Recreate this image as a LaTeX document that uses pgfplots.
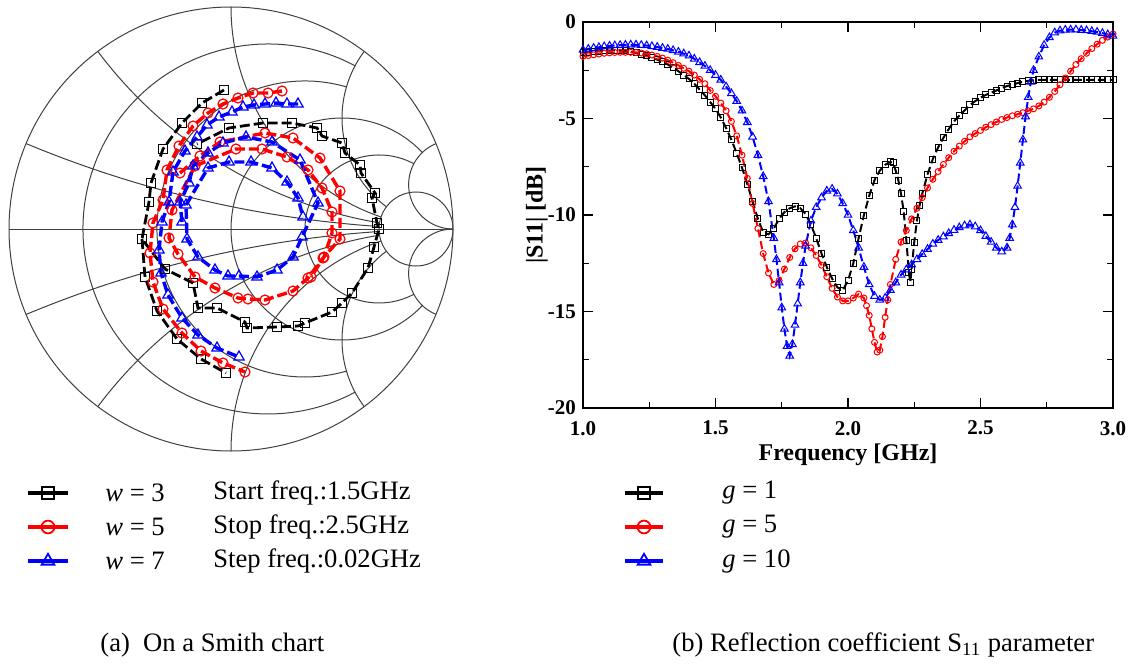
\documentclass[border=0pt]{standalone}
\usepackage{pgfplots}
\pgfplotsset{compat=1.18}
\usepackage{fontspec}
\setmainfont{Liberation Serif}

\begin{document}
\begin{tikzpicture}
\useasboundingbox (0,0) rectangle (569pt,332.5pt);

% ---- Smith chart grid (unit = |Gamma| = 1)
\begin{scope}[shift={(115.5pt,218pt)}, x=111pt, y=111pt, line width=0.5pt, black!75]
  \draw (0,0) circle [radius=1];
  \draw (-1,0) -- (1,0);
  % constant resistance circles, drawn for |x| <= X
  \foreach \r/\X in {0.2/2, 0.5/2, 1/5, 2/5} {
    \pgfmathsetmacro\c{\r/(1+\r)}
    \pgfmathsetmacro\R{1/(1+\r)}
    \pgfmathsetmacro\t{180-2*atan(\X/(1+\r))}
    \draw ({\c+\R*cos(\t)},{\R*sin(\t)}) arc [start angle=\t, end angle={360-\t}, radius=\R];
  }
  \draw (0.83333,0) circle [radius=0.16667];
  % constant reactance arcs, drawn from r = 0 to r = rr
  \foreach \xx/\rr in {0.2/5, 0.5/5, 1/5, 2/5, 5/1000} {
    \pgfmathsetmacro\a{270-2*atan(\xx)}
    \pgfmathsetmacro\b{270-2*atan(\xx/(1+\rr))}
    \pgfmathsetmacro\R{1/\xx}
    \draw ({1+\R*cos(\a)},{\R+\R*sin(\a)}) arc [start angle=\a, end angle=\b, radius=\R];
    \draw ({1+\R*cos(\a)},{-\R-\R*sin(\a)}) arc [start angle=-\a, end angle=-\b, radius=\R];
  }
\end{scope}

% ---- Smith chart traces (picture coordinates of the chart, y downwards)
\begin{axis}[at={(4.5pt,107pt)}, anchor=south west, scale only axis,
  width=222pt, height=222pt, xmin=9, xmax=453, ymin=7, ymax=451, y dir=reverse,
  hide axis, clip=false, unbounded coords=jump]
\addplot[black, line width=1.4pt, dash pattern=on 5pt off 2pt, mark=square,
  mark size=2.1pt, mark options={solid, line width=0.6pt, fill=white}] coordinates {
  (224,90) (202,103) (182,123) (163,149) (151,183) (149,202) (142,239)
  (165,269) (193,283) (198,308) (217,308) (245,322) (247,328) (277,327) (298,326)
  (305,323) (332,312) (342,303) (352,293) (368,268) (374,247) (379,229) (377,223)
  (372,198) (375,193) (361,173) (360,165) (345,153) (342,143) (322,136) (317,128)
  (292,123) (263,123) (229,128) (197,144)
  (nan,nan)
  (142,239) (145,277) (157,311) (177,339) (201,359) (226,373)
};
\addplot[red, line width=1.7pt, dash pattern=on 5pt off 2pt, mark=o,
  mark size=2.5pt, mark options={solid, line width=0.6pt, fill=white}] coordinates {
  (282,91) (268,93) (253,93) (238,98) (223,104) (208,113) (193,126) (179,146)
  (167,170) (163,200) (153,223) (150,253) (153,282) (163,309) (182,333) (201,351)
  (223,363) (245,372)
  (nan,nan)
  (180,173) (200,156) (220,142) (265,133) (293,138) (320,158) (340,191) (340,239)
  (323,258) (308,278) (293,291) (265,300) (248,299) (238,298) (215,288) (195,277)
  (178,254) (169,238) (172,210) (195,166) (236,149) (262,149) (287,157) (308,170)
  (322,188) (332,212) (332,233) (324,257) (311,277)
};
\addplot[blue, line width=1.7pt, dash pattern=on 5pt off 2pt, mark=triangle,
  mark size=3pt, mark options={solid, line width=0.6pt, fill=white}] coordinates {
  (298,104) (287,104) (276,103) (265,104) (254,105) (243,107) (232,112) (219,117)
  (207,125) (197,137) (185,151) (173,172) (169,202) (162,222) (159,250) (161,273)
  (168,295) (182,318) (198,335) (217,348) (239,357)
  (nan,nan)
  (182,222) (180,202) (189,183) (193,166) (208,153) (223,143) (246,137) (272,142)
  (300,160) (318,203) (302,237) (293,257) (277,270) (257,277) (239,276) (228,276)
  (215,270) (198,257) (187,239) (186,205) (208,168) (229,162) (251,162) (272,168)
  (287,182) (298,198) (303,217)
};
\end{axis}

% ---- S11 versus frequency
\begin{axis}[at={(291.5pt,128.5pt)}, anchor=south west, scale only axis,
  width=265pt, height=193pt, xmin=1, xmax=3, ymin=-20, ymax=0,
  xtick={1,1.5,2,2.5,3}, ytick={-20,-15,-10,-5,0},
  minor x tick num=1, minor y tick num=1, tick align=inside,
  major tick length=5pt, minor tick length=3pt,
  axis line style={line width=0.8pt}, every tick/.style={line width=0.7pt, black},
  /pgf/number format/assume math mode=true,
  tick label style={font=\bfseries\fontsize{10.5}{12}\selectfont},
  xticklabel style={/pgf/number format/.cd, fixed, fixed zerofill, precision=1},
  xticklabel shift=3pt,
  xlabel={\textbf{Frequency [GHz]}},
  ylabel={\textbf{|S11| [dB]}},
  label style={font=\bfseries\fontsize{12}{14}\selectfont},
  xlabel style={at={(axis description cs:0.5,-0.12)}, anchor=center},
  ylabel style={at={(axis description cs:-0.087,0.5)}, anchor=center},
  clip=false]
\addplot[black, line width=1pt, dash pattern=on 4pt off 2pt, mark=square,
  mark size=1.5pt, mark options={solid, line width=0.5pt}] coordinates {
  (1.00,-1.60) (1.02,-1.57) (1.04,-1.55) (1.06,-1.52) (1.08,-1.50) (1.10,-1.48)
  (1.12,-1.47) (1.14,-1.48) (1.16,-1.50) (1.18,-1.55) (1.20,-1.60) (1.22,-1.67)
  (1.24,-1.75) (1.26,-1.85) (1.28,-1.95) (1.30,-2.07) (1.32,-2.20) (1.34,-2.37)
  (1.36,-2.55) (1.38,-2.75) (1.40,-2.95) (1.42,-3.20) (1.44,-3.50) (1.46,-3.80)
  (1.48,-4.15) (1.50,-4.50) (1.52,-4.95) (1.54,-5.50) (1.56,-6.10)
  (1.58,-6.80) (1.60,-7.55) (1.62,-8.40) (1.64,-9.30) (1.66,-10.20) (1.68,-10.90)
  (1.70,-11.00) (1.72,-10.70) (1.74,-10.20) (1.76,-9.85) (1.78,-9.65) (1.80,-9.55)
  (1.82,-9.65) (1.84,-9.95) (1.86,-10.50) (1.88,-11.20) (1.90,-12.00) (1.92,-12.70)
  (1.94,-13.30) (1.96,-13.75) (1.98,-13.90) (2.00,-13.40) (2.02,-12.50) (2.04,-11.20)
  (2.06,-10.00) (2.08,-9.00) (2.10,-8.20) (2.12,-7.70) (2.14,-7.40) (2.16,-7.25)
  (2.17,-7.30) (2.18,-7.70) (2.19,-8.20) (2.20,-8.90) (2.21,-9.80) (2.22,-11.30)
  (2.23,-13.00) (2.235,-13.50) (2.24,-12.80) (2.25,-11.40) (2.26,-10.30) (2.27,-9.50)
  (2.28,-8.90) (2.30,-7.90) (2.32,-7.10) (2.34,-6.50) (2.36,-6.00) (2.38,-5.55)
  (2.40,-5.15) (2.42,-4.85) (2.44,-4.58) (2.46,-4.30) (2.48,-4.10) (2.50,-3.92)
  (2.52,-3.78) (2.54,-3.66) (2.56,-3.55) (2.58,-3.42) (2.60,-3.32) (2.62,-3.24)
  (2.64,-3.17) (2.66,-3.10) (2.68,-3.05) (2.70,-3.02) (2.72,-3.00) (2.74,-3.00)
  (2.76,-3.00) (2.78,-3.00) (2.80,-3.00) (2.82,-3.00) (2.84,-3.00) (2.86,-3.00)
  (2.88,-3.00) (2.90,-3.00) (2.92,-3.00) (2.94,-3.00) (2.96,-3.00) (2.98,-3.00)
  (3.00,-3.00)
};
\addplot[red, line width=1pt, dash pattern=on 4pt off 2pt, mark=o,
  mark size=1.5pt, mark options={solid, line width=0.5pt}] coordinates {
  (1.00,-1.78) (1.02,-1.74) (1.04,-1.70) (1.06,-1.66) (1.08,-1.62) (1.10,-1.60)
  (1.12,-1.58) (1.14,-1.57) (1.16,-1.57) (1.18,-1.57) (1.20,-1.58) (1.22,-1.61)
  (1.24,-1.65) (1.26,-1.71) (1.28,-1.78) (1.30,-1.87) (1.32,-1.98) (1.34,-2.11)
  (1.36,-2.25) (1.38,-2.40) (1.40,-2.55) (1.42,-2.75) (1.44,-2.97) (1.46,-3.20)
  (1.48,-3.55) (1.50,-3.85) (1.52,-4.20) (1.54,-4.60) (1.56,-5.15)
  (1.58,-5.90) (1.60,-6.90) (1.62,-8.10) (1.64,-9.40) (1.66,-10.70) (1.68,-12.00)
  (1.70,-13.00) (1.72,-13.60) (1.74,-13.40) (1.76,-12.80) (1.78,-12.20) (1.80,-11.75)
  (1.82,-11.50) (1.84,-11.45) (1.86,-11.70) (1.88,-12.10) (1.90,-12.60) (1.92,-13.20)
  (1.94,-13.80) (1.96,-14.25) (1.98,-14.45) (2.00,-14.45) (2.02,-14.30) (2.04,-14.10)
  (2.06,-14.30) (2.07,-14.70) (2.08,-15.20) (2.09,-15.90) (2.10,-16.60) (2.11,-17.10)
  (2.12,-17.00) (2.13,-16.30) (2.14,-15.30) (2.15,-14.40) (2.16,-13.60) (2.18,-12.30)
  (2.20,-11.40) (2.22,-10.80) (2.24,-10.20) (2.26,-9.65) (2.28,-9.10) (2.30,-8.60)
  (2.32,-8.15) (2.34,-7.75) (2.36,-7.38) (2.38,-7.03) (2.40,-6.70) (2.42,-6.43)
  (2.44,-6.18) (2.46,-5.95) (2.48,-5.78) (2.50,-5.62) (2.52,-5.45) (2.54,-5.32)
  (2.56,-5.18) (2.58,-5.05) (2.60,-4.95) (2.62,-4.86) (2.64,-4.78) (2.66,-4.70)
  (2.68,-4.60) (2.70,-4.50) (2.72,-4.35) (2.74,-4.15) (2.76,-3.90) (2.78,-3.60)
  (2.80,-3.25) (2.82,-2.90) (2.84,-2.55) (2.86,-2.20) (2.88,-1.90) (2.90,-1.62)
  (2.92,-1.38) (2.94,-1.15) (2.96,-0.95) (2.98,-0.78) (3.00,-0.62)
};
\addplot[blue, line width=1pt, dash pattern=on 4pt off 2pt, mark=triangle,
  mark size=2.2pt, mark options={solid, line width=0.5pt}] coordinates {
  (1.00,-1.45) (1.02,-1.40) (1.04,-1.35) (1.06,-1.31) (1.08,-1.27) (1.10,-1.24)
  (1.12,-1.22) (1.14,-1.20) (1.16,-1.19) (1.18,-1.18) (1.20,-1.18) (1.22,-1.20)
  (1.24,-1.22) (1.26,-1.26) (1.28,-1.30) (1.30,-1.35) (1.32,-1.40) (1.34,-1.47)
  (1.36,-1.55) (1.38,-1.64) (1.40,-1.75) (1.42,-1.91) (1.44,-2.09) (1.46,-2.28)
  (1.48,-2.50) (1.50,-2.75) (1.52,-3.00) (1.54,-3.35) (1.56,-3.70)
  (1.58,-4.10) (1.60,-4.60) (1.62,-5.20) (1.64,-5.95) (1.66,-6.90) (1.68,-8.00)
  (1.70,-9.30) (1.72,-11.20) (1.73,-12.30) (1.74,-13.50) (1.75,-14.80) (1.76,-15.90)
  (1.77,-16.80) (1.78,-17.30) (1.79,-16.70) (1.80,-15.70) (1.81,-14.60) (1.82,-13.50)
  (1.83,-12.50) (1.84,-11.60) (1.86,-10.30) (1.88,-9.60) (1.90,-9.10) (1.92,-8.75)
  (1.94,-8.65) (1.96,-8.90) (1.98,-9.40) (2.00,-10.00) (2.02,-10.80) (2.04,-11.70)
  (2.06,-12.70) (2.08,-13.60) (2.10,-14.20) (2.12,-14.40) (2.14,-14.30) (2.16,-13.90)
  (2.18,-13.50) (2.20,-13.10) (2.22,-12.83) (2.24,-12.57) (2.26,-12.30) (2.28,-12.03)
  (2.30,-11.77) (2.32,-11.50) (2.34,-11.30) (2.36,-11.12) (2.38,-10.95) (2.40,-10.78)
  (2.42,-10.65) (2.44,-10.55) (2.46,-10.50) (2.48,-10.60)
  (2.50,-10.80) (2.52,-11.10) (2.54,-11.40) (2.56,-11.70) (2.58,-11.90) (2.60,-11.70)
  (2.61,-11.20) (2.62,-10.50) (2.63,-9.60) (2.64,-8.50) (2.65,-7.30) (2.66,-6.10)
  (2.67,-4.90) (2.68,-3.90) (2.69,-3.10) (2.70,-2.50) (2.72,-1.80) (2.74,-1.20)
  (2.76,-0.80) (2.78,-0.55) (2.80,-0.45) (2.82,-0.41) (2.84,-0.40) (2.86,-0.40)
  (2.88,-0.42) (2.90,-0.44) (2.92,-0.48) (2.94,-0.52) (2.96,-0.58) (2.98,-0.65)
  (3.00,-0.72)
};
\end{axis}

% ---- legends
\begin{scope}[every node/.style={inner sep=0pt, anchor=west, font=\fontsize{13.3}{16}\selectfont}]
  \draw[black, line width=1.6pt] (14pt,86pt) -- (34pt,86pt);
  \draw[red, line width=1.6pt] (14pt,69pt) -- (34pt,69pt);
  \draw[blue, line width=1.6pt] (14pt,52pt) -- (34pt,52pt);
  \path plot[mark=square, mark size=3pt, mark options={black, fill=white, line width=0.9pt}] coordinates {(24pt,86pt)};
  \path plot[mark=o, mark size=3.2pt, mark options={red, fill=white, line width=0.9pt}] coordinates {(24pt,69pt)};
  \path plot[mark=triangle, mark size=3.6pt, mark options={blue, fill=white, line width=0.9pt}] coordinates {(24pt,52pt)};
  \node at (52.5pt,86pt) {\textit{w} = 3};
  \node at (52.5pt,69pt) {\textit{w} = 5};
  \node at (52.5pt,52pt) {\textit{w} = 7};
  \node at (106.5pt,86pt) {Start freq.:1.5GHz};
  \node at (106.5pt,69pt) {Stop freq.:2.5GHz};
  \node at (106.5pt,52pt) {Step freq.:0.02GHz};

  \draw[black, line width=1.6pt] (312.5pt,86pt) -- (331.5pt,86pt);
  \draw[red, line width=1.6pt] (312.5pt,69pt) -- (331.5pt,69pt);
  \draw[blue, line width=1.6pt] (312.5pt,52pt) -- (331.5pt,52pt);
  \path plot[mark=square, mark size=3pt, mark options={black, fill=white, line width=0.9pt}] coordinates {(322pt,86pt)};
  \path plot[mark=o, mark size=3.2pt, mark options={red, fill=white, line width=0.9pt}] coordinates {(322pt,69pt)};
  \path plot[mark=triangle, mark size=3.6pt, mark options={blue, fill=white, line width=0.9pt}] coordinates {(322pt,52pt)};
  \node at (361pt,86pt) {\textit{g} = 1};
  \node at (361pt,69pt) {\textit{g} = 5};
  \node at (361pt,52pt) {\textit{g} = 10};

  \node at (50pt,10pt) {(a)\ \ On a Smith chart};
  \node at (336pt,10pt) {(b) Reflection coefficient S\textsubscript{11} parameter};
\end{scope}
\end{tikzpicture}
\end{document}
